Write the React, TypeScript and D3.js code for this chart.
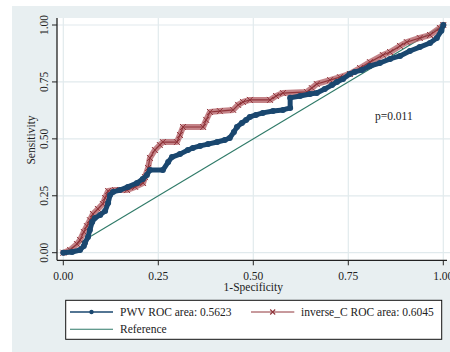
import React from 'react';
import * as d3 from 'd3';

const W = 450;
const H = 352;

// axis ticks (both axes use the same)
const tickValues = [0, 0.25, 0.5, 0.75, 1];
const tickLabels = ['0.00', '0.25', '0.50', '0.75', '1.00'];

// PWV ROC curve (1-specificity, sensitivity)
const pwvX = [0, 0.023, 0.044, 0.054, 0.057, 0.065, 0.07, 0.076, 0.083, 0.097, 0.11, 0.118, 0.123, 0.131, 0.149, 0.17, 0.194, 0.209, 0.22, 0.228, 0.262, 0.276, 0.286, 0.307, 0.328, 0.341, 0.36, 0.381, 0.405, 0.425, 0.438, 0.449, 0.457, 0.47, 0.481, 0.491, 0.507, 0.525, 0.552, 0.578, 0.597, 0.597, 0.623, 0.649, 0.667, 0.688, 0.707, 0.72, 0.736, 0.754, 0.767, 0.786, 0.807, 0.833, 0.86, 0.886, 0.912, 0.938, 0.965, 0.983, 0.995, 1];
const pwvY = [0, 0.003, 0.012, 0.029, 0.043, 0.069, 0.1, 0.135, 0.152, 0.166, 0.183, 0.218, 0.253, 0.267, 0.275, 0.289, 0.306, 0.324, 0.341, 0.363, 0.363, 0.398, 0.42, 0.433, 0.451, 0.46, 0.469, 0.477, 0.486, 0.495, 0.504, 0.53, 0.552, 0.57, 0.583, 0.596, 0.605, 0.614, 0.622, 0.627, 0.636, 0.68, 0.688, 0.697, 0.701, 0.719, 0.736, 0.75, 0.763, 0.785, 0.794, 0.802, 0.82, 0.833, 0.851, 0.864, 0.886, 0.903, 0.921, 0.943, 0.975, 1];

// inverse_C ROC curve
const invX = [0, 0.018, 0.036, 0.044, 0.054, 0.062, 0.07, 0.078, 0.091, 0.104, 0.11, 0.118, 0.136, 0.168, 0.189, 0.21, 0.215, 0.223, 0.228, 0.241, 0.254, 0.262, 0.299, 0.307, 0.315, 0.368, 0.376, 0.386, 0.412, 0.447, 0.46, 0.473, 0.491, 0.544, 0.56, 0.578, 0.641, 0.654, 0.667, 0.702, 0.728, 0.754, 0.781, 0.807, 0.841, 0.86, 0.886, 0.904, 0.938, 0.965, 0.991, 1];
const invY = [0, 0.012, 0.038, 0.056, 0.091, 0.117, 0.143, 0.17, 0.192, 0.214, 0.24, 0.271, 0.275, 0.275, 0.289, 0.306, 0.332, 0.372, 0.416, 0.451, 0.473, 0.486, 0.486, 0.517, 0.552, 0.552, 0.583, 0.618, 0.622, 0.627, 0.649, 0.662, 0.671, 0.671, 0.688, 0.701, 0.706, 0.723, 0.741, 0.758, 0.771, 0.785, 0.811, 0.837, 0.868, 0.881, 0.908, 0.925, 0.943, 0.956, 0.987, 1];

// reference diagonal
const refX = [0, 1];
const refY = [0, 1];

const seriesLabels = ['PWV ROC area: 0.5623', 'inverse_C ROC area: 0.6045', 'Reference'];
const xTitle = '1-Specificity';
const yTitle = 'Sensitivity';
const pText = 'p=0.011';

const NAVY = '#1a476f';
const MAROON = '#90353b';
const REF = '#2f7a68';
const BG = '#e8eff1';
const GRID = '#e1eaed';
const FONT = '"Liberation Serif", "Times New Roman", serif';

export default function App() {
  const x = d3.scaleLinear().domain([0, 1]).range([63.3, 443.3]);
  const y = d3.scaleLinear().domain([0, 1]).range([252.7, 25]);

  const line = d3
    .line<[number, number]>()
    .x((d) => x(d[0]))
    .y((d) => y(d[1]));

  const pwv = pwvX.map((v, i) => [v, pwvY[i]] as [number, number]);
  const inv = invX.map((v, i) => [v, invY[i]] as [number, number]);
  const ref = refX.map((v, i) => [v, refY[i]] as [number, number]);

  const plotLeft = 57;
  const plotTop = 18;
  const plotBottom = 260.3;
  const plotRight = 450;

  return (
    <svg
      width={W}
      height={H}
      style={{ position: 'absolute', left: 0, top: 0, fontFamily: FONT }}
    >
      <rect x={0} y={0} width={W} height={H} fill="#ffffff" />
      <rect x={12} y={6} width={W - 12} height={H - 6} fill={BG} />
      <rect x={plotLeft} y={plotTop} width={plotRight - plotLeft} height={plotBottom - plotTop} fill="#ffffff" />

      {/* grid */}
      {tickValues.map((t) => (
        <g key={'g' + t}>
          <line x1={plotLeft} x2={plotRight} y1={y(t)} y2={y(t)} stroke={GRID} strokeWidth={1.2} />
          <line x1={x(t)} x2={x(t)} y1={plotTop} y2={plotBottom} stroke={GRID} strokeWidth={1.2} />
        </g>
      ))}

      {/* reference line */}
      <path d={line(ref) || ''} fill="none" stroke={REF} strokeWidth={1.1} />

      {/* inverse_C */}
      <path d={line(inv) || ''} fill="none" stroke="#b5646a" strokeWidth={6} strokeLinejoin="round" strokeLinecap="round" opacity={0.8} />
      {inv.map((d, i) => (
        <path
          key={'ix' + i}
          d={`M${x(d[0]) - 3},${y(d[1]) - 3}L${x(d[0]) + 3},${y(d[1]) + 3}M${x(d[0]) - 3},${y(d[1]) + 3}L${x(d[0]) + 3},${y(d[1]) - 3}`}
          stroke={MAROON}
          strokeWidth={1}
        />
      ))}
      <path d={line(inv) || ''} fill="none" stroke={MAROON} strokeWidth={1.2} />

      {/* PWV */}
      <path d={line(pwv) || ''} fill="none" stroke={NAVY} strokeWidth={5} strokeLinejoin="round" strokeLinecap="round" />
      {pwv.map((d, i) => (
        <circle key={'pc' + i} cx={x(d[0])} cy={y(d[1])} r={3} fill={NAVY} />
      ))}

      {/* axes */}
      <line x1={plotLeft} x2={plotLeft} y1={plotTop} y2={plotBottom} stroke="#222" strokeWidth={1.3} />
      <line x1={plotLeft} x2={447} y1={plotBottom} y2={plotBottom} stroke="#222" strokeWidth={1.3} />
      {tickValues.map((t, i) => (
        <g key={'t' + t}>
          <line x1={plotLeft - 5} x2={plotLeft} y1={y(t)} y2={y(t)} stroke="#222" strokeWidth={1} />
          <text
            transform={`translate(47.5,${y(t)}) rotate(-90)`}
            textAnchor="middle"
            fontSize={11.5}
            fill="#222"
          >
            {tickLabels[i]}
          </text>
          <line x1={x(t)} x2={x(t)} y1={plotBottom} y2={plotBottom + 5} stroke="#222" strokeWidth={1} />
          <text x={x(t)} y={279.5} textAnchor="middle" fontSize={11.5} fill="#222">
            {tickLabels[i]}
          </text>
        </g>
      ))}

      <text x={253.3} y={290.8} textAnchor="middle" fontSize={11.5} fill="#222">
        {xTitle}
      </text>
      <text transform="translate(35,140) rotate(-90)" textAnchor="middle" fontSize={11.5} fill="#222">
        {yTitle}
      </text>

      <text x={375} y={120} fontSize={11.5} fill="#222">
        {pText}
      </text>

      {/* legend */}
      <rect x={65.7} y={300.3} width={376} height={39} fill="#ffffff" stroke="#111" strokeWidth={1} />
      <line x1={70} x2={113} y1={312} y2={312} stroke={NAVY} strokeWidth={1.3} />
      <circle cx={91.5} cy={312} r={2.2} fill={NAVY} />
      <text x={120} y={316} fontSize={11.5} fill="#222">
        {seriesLabels[0]}
      </text>
      <line x1={251} x2={294.3} y1={312} y2={312} stroke={MAROON} strokeWidth={1} />
      <path d="M270.2,309.5L275.2,314.5M270.2,314.5L275.2,309.5" stroke={MAROON} strokeWidth={1.1} />
      <text x={301} y={316} fontSize={11.5} fill="#222">
        {seriesLabels[1]}
      </text>
      <line x1={70} x2={113} y1={329.3} y2={329.3} stroke={REF} strokeWidth={1.1} />
      <text x={120} y={333} fontSize={11.5} fill="#222">
        {seriesLabels[2]}
      </text>
    </svg>
  );
}
